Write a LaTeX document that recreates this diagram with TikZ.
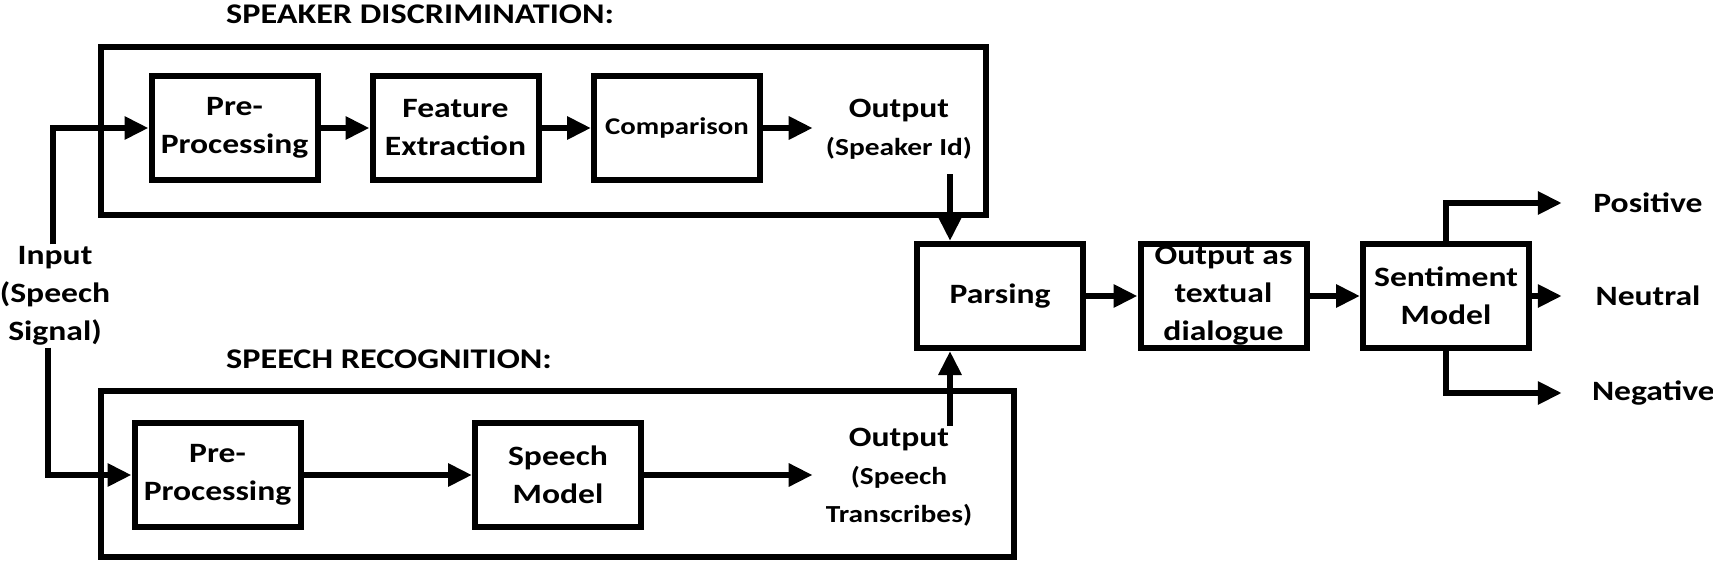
\documentclass[tikz,border=0pt]{standalone}
\usepackage{fontspec}
\setmainfont{Carlito}[FakeStretch=1.2]
\usetikzlibrary{arrows.meta}
\newcommand\smallfs{\fontsize{24.5}{38}\selectfont}
\begin{document}
\begin{tikzpicture}[x=1pt,y=-1pt,
  every node/.style={font=\bfseries\fontsize{28}{38}\selectfont, text=black},
  box/.style={draw, line width=6pt, minimum width=166pt, minimum height=104pt, inner sep=2pt, align=center},
  group/.style={draw, line width=6pt, inner sep=0pt},
  arr/.style={line width=6pt, -{Triangle[length=24pt,width=22pt]}},
  lbl/.style={align=center, inner xsep=13pt, inner ysep=2pt},
  res/.style={text width=112pt, align=center, inner xsep=30pt},
  title/.style={anchor=west, inner sep=0pt, font=\bfseries\fontsize{28.5}{32}\selectfont}]
\useasboundingbox (0,0) rectangle (1713,567);
% groups
\node[group, minimum width=885pt, minimum height=168pt] (sdg) at (543.5,131) {};
\node[group, minimum width=913pt, minimum height=166pt] (srg) at (557.5,474) {};
\node[title] (sdt) at (226,14) {SPEAKER DISCRIMINATION:};
\node[title] (srt) at (226,359.5) {SPEECH RECOGNITION:};
% speaker discrimination
\node[box] (sp1) at (234.5,128) {Pre-\\Processing};
\node[box] (sp2) at (455.5,128) {Feature\\Extraction};
\node[box, font=\bfseries\fontsize{24}{30}\selectfont] (sp3) at (677,128) {Comparison};
\node[lbl] (spo) at (899,129) {Output\\{\smallfs (Speaker Id)}};
% speech recognition
\node[box] (sr1) at (217.5,475) {Pre-\\Processing};
\node[box] (sr2) at (558,475) {Speech\\Model};
\node[lbl] (sro) at (899,477) {Output\\{\smallfs (Speech}\\{\smallfs Transcribes)}};
% input
\node[lbl] (inp) at (55,296) {Input\\(Speech\\Signal)};
% right part
\node[box] (par) at (1000,296) {Parsing};
\node[box] (otd) at (1223.5,296) {Output as\\textual\\dialogue};
\node[box] (sm) at (1446,296) {Sentiment\\Model};
\node[res] (pos) at (1648,203) {Positive};
\node[res] (neu) at (1648,296) {Neutral};
\node[res] (neg) at (1648,393) {Negative};
% connectors
\draw[arr] ([xshift=-2pt]inp.north) |- (sp1.west);
\draw[arr] ([xshift=-7pt]inp.south) |- (sr1.west);
\draw[arr] (sp1.east) -- (sp2.west);
\draw[arr] (sp2.east) -- (sp3.west);
\draw[arr] (sp3.east) -- (sp3.east -| spo.west);
\draw[arr] ([xshift=51pt,yshift=-13pt]spo.south) -- ([xshift=-50pt]par.north);
\draw[arr] (sr1.east) -- (sr2.west);
\draw[arr] (sr2.east) -- (sr2.east -| sro.west);
\draw[arr] ([xshift=51pt]sro.north) -- ([xshift=-50pt]par.south);
\draw[arr] (par.east) -- (otd.west);
\draw[arr] (otd.east) -- (sm.west);
\draw[arr] (sm.north) |- (pos.west);
\draw[arr] (sm.east) -- (neu.west);
\draw[arr] (sm.south) |- (neg.west);
\end{tikzpicture}
\end{document}
